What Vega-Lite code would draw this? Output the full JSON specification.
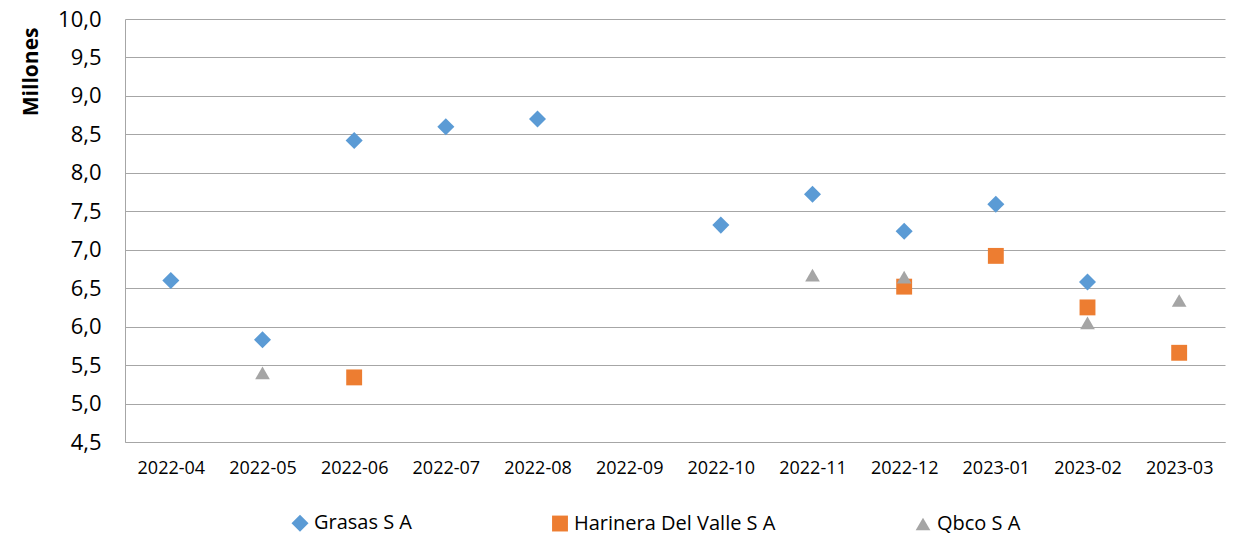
{
  "$schema": "https://vega.github.io/schema/vega-lite/v6.json",
  "width": 1100,
  "height": 423,
  "autosize": {"type": "none"},
  "padding": {"left": 125, "top": 19, "right": 15, "bottom": 97},
  "background": "white",
  "config": {"view": {"stroke": null}, "font": "Open Sans"},
  "data": {"values": [
    {"mes": "2022-04", "empresa": "Grasas S A", "valor": 6.60},
    {"mes": "2022-05", "empresa": "Grasas S A", "valor": 5.83},
    {"mes": "2022-06", "empresa": "Grasas S A", "valor": 8.42},
    {"mes": "2022-07", "empresa": "Grasas S A", "valor": 8.60},
    {"mes": "2022-08", "empresa": "Grasas S A", "valor": 8.70},
    {"mes": "2022-10", "empresa": "Grasas S A", "valor": 7.32},
    {"mes": "2022-11", "empresa": "Grasas S A", "valor": 7.72},
    {"mes": "2022-12", "empresa": "Grasas S A", "valor": 7.24},
    {"mes": "2023-01", "empresa": "Grasas S A", "valor": 7.59},
    {"mes": "2023-02", "empresa": "Grasas S A", "valor": 6.58},
    {"mes": "2022-06", "empresa": "Harinera Del Valle S A", "valor": 5.34},
    {"mes": "2022-12", "empresa": "Harinera Del Valle S A", "valor": 6.52},
    {"mes": "2023-01", "empresa": "Harinera Del Valle S A", "valor": 6.92},
    {"mes": "2023-02", "empresa": "Harinera Del Valle S A", "valor": 6.25},
    {"mes": "2023-03", "empresa": "Harinera Del Valle S A", "valor": 5.66},
    {"mes": "2022-05", "empresa": "Qbco S A", "valor": 5.40},
    {"mes": "2022-11", "empresa": "Qbco S A", "valor": 6.67},
    {"mes": "2022-12", "empresa": "Qbco S A", "valor": 6.645},
    {"mes": "2023-02", "empresa": "Qbco S A", "valor": 6.05},
    {"mes": "2023-03", "empresa": "Qbco S A", "valor": 6.34}
  ]},
  "mark": {"type": "point", "filled": true, "opacity": 1},
  "encoding": {
    "x": {
      "field": "mes", "type": "ordinal",
      "scale": {"domain": ["2022-04","2022-05","2022-06","2022-07","2022-08","2022-09","2022-10","2022-11","2022-12","2023-01","2023-02","2023-03"], "paddingInner": 0, "paddingOuter": 0},
      "axis": {"title": null, "labelAngle": 0, "labelFontSize": 18, "labelColor": "#000000", "labelPadding": 17, "ticks": false, "domainColor": "#a6a6a6", "grid": false}
    },
    "y": {
      "field": "valor", "type": "quantitative",
      "scale": {"domain": [4.5, 10], "nice": false, "zero": false},
      "axis": {
        "values": [4.5,5,5.5,6,6.5,7,7.5,8,8.5,9,9.5,10],
        "labelExpr": "replace(format(datum.value, '.1f'), '.', ',')",
        "labelFontSize": 22, "labelColor": "#000000", "labelPadding": 24,
        "ticks": false, "domainColor": "#a6a6a6", "gridColor": "#a6a6a6", "gridOpacity": 1,
        "title": "Millones", "titleFontSize": 21, "titleFontWeight": "bold", "titleColor": "#000000",
        "titleAnchor": "end", "titleY": 8, "titlePadding": 16
      }
    },
    "color": {
      "field": "empresa", "type": "nominal",
      "scale": {"domain": ["Grasas S A", "Harinera Del Valle S A", "Qbco S A"], "range": ["#5B9BD5", "#ED7D31", "#A5A5A5"]},
      "legend": {
        "orient": "none", "direction": "horizontal", "legendX": 165, "legendY": 494,
        "title": null, "labelFontSize": 20, "labelColor": "#000000", "symbolSize": 120,
        "columnPadding": 136, "labelOffset": 4, "symbolOpacity": 1, "labelLimit": 400
      }
    },
    "shape": {
      "field": "empresa", "type": "nominal",
      "scale": {"domain": ["Grasas S A", "Harinera Del Valle S A", "Qbco S A"], "range": ["diamond", "square", "triangle-up"]}
    },
    "size": {
      "field": "empresa", "type": "nominal",
      "scale": {"domain": ["Grasas S A", "Harinera Del Valle S A", "Qbco S A"], "range": [290, 215, 230]},
      "legend": null
    }
  }
}
